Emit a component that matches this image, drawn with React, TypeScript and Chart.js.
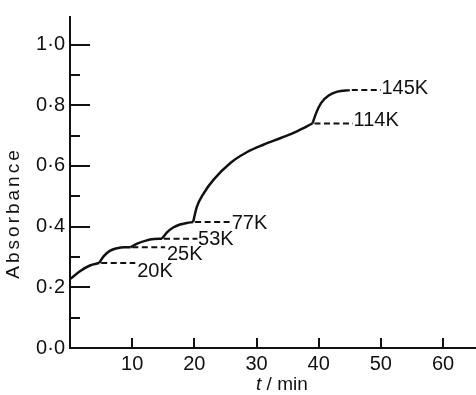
import React, { useEffect, useRef } from 'react';
import { Chart, registerables } from 'chart.js';

Chart.register(...registerables);

const INK = '#111111';

// Axis ticks
const X_TICKS = [10, 20, 30, 40, 50, 60];
const X_TICK_LABELS = ['10', '20', '30', '40', '50', '60'];
const Y_TICKS = [0, 0.2, 0.4, 0.6, 0.8, 1.0];
const Y_TICK_LABELS = ['0·0', '0·2', '0·4', '0·6', '0·8', '1·0'];
const Y_MINOR_TICKS = [0.1, 0.3, 0.5, 0.7, 0.9];

// Solid warming segments (t / min, absorbance)
const RISE_20K_T = [0, 1.6, 3.2, 4.7];
const RISE_20K_A = [0.227, 0.253, 0.272, 0.28];
const RISE_25K_T = [4.7, 5.4, 6.4, 7.6, 8.7, 9.7];
const RISE_25K_A = [0.28, 0.302, 0.32, 0.329, 0.332, 0.332];
const RISE_53K_T = [9.7, 10.8, 12.2, 13.5, 14.8];
const RISE_53K_A = [0.332, 0.344, 0.354, 0.359, 0.36];
const RISE_77K_T = [14.8, 15.6, 16.6, 17.7, 18.8, 19.8];
const RISE_77K_A = [0.36, 0.381, 0.397, 0.407, 0.412, 0.415];
const RISE_114K_T = [19.8, 20.4, 21.5, 23.1, 25.8, 28.5, 31.1, 34, 36.5, 39];
const RISE_114K_A = [0.415, 0.465, 0.51, 0.555, 0.61, 0.646, 0.67, 0.693, 0.714, 0.74];
const RISE_145K_T = [39, 39.6, 40.4, 41.6, 43, 45];
const RISE_145K_A = [0.74, 0.775, 0.808, 0.832, 0.845, 0.85];

// Dashed plateaus and their labels
const PLATEAU_LABELS = ['20K', '25K', '53K', '77K', '114K', '145K'];
const PLATEAU_START_T = [4.7, 9.7, 14.8, 19.8, 39, 45];
const PLATEAU_END_T = [10.5, 15.3, 20.5, 25.8, 45.5, 50];
const PLATEAU_A = [0.28, 0.332, 0.36, 0.415, 0.74, 0.85];
const LABEL_T = [10.8, 15.6, 20.6, 26.0, 45.6, 50.1];
const LABEL_A = [0.253, 0.308, 0.357, 0.412, 0.75, 0.854];

const X_MIN = 0;
const X_MAX = 65.3;
const Y_MIN = 0;
const Y_MAX = 1.091;

const FONT = '"Liberation Sans", Arial, sans-serif';

const SEGMENTS: [number[], number[]][] = [
  [RISE_20K_T, RISE_20K_A],
  [RISE_25K_T, RISE_25K_A],
  [RISE_53K_T, RISE_53K_A],
  [RISE_77K_T, RISE_77K_A],
  [RISE_114K_T, RISE_114K_A],
  [RISE_145K_T, RISE_145K_A],
];

const overlay = {
  id: 'overlay',
  afterDraw(chart: any) {
    const { ctx, chartArea } = chart;
    const x = chart.scales.x;
    const y = chart.scales.y;
    ctx.save();
    ctx.strokeStyle = INK;
    ctx.fillStyle = INK;
    ctx.lineWidth = 2;
    ctx.setLineDash([]);
    ctx.beginPath();
    Y_TICKS.forEach((v) => {
      if (v === 0) return;
      const py = Math.round(y.getPixelForValue(v));
      ctx.moveTo(chartArea.left, py);
      ctx.lineTo(chartArea.left + 20, py);
    });
    Y_MINOR_TICKS.forEach((v) => {
      const py = Math.round(y.getPixelForValue(v));
      ctx.moveTo(chartArea.left, py);
      ctx.lineTo(chartArea.left + 10, py);
    });
    X_TICKS.forEach((v) => {
      const px = Math.round(x.getPixelForValue(v));
      ctx.moveTo(px, chartArea.bottom);
      ctx.lineTo(px, chartArea.bottom - 10);
    });
    ctx.stroke();

    // plateau labels
    ctx.font = `20px ${FONT}`;
    ctx.textAlign = 'left';
    ctx.textBaseline = 'middle';
    PLATEAU_LABELS.forEach((s, i) => {
      ctx.fillText(s, x.getPixelForValue(LABEL_T[i]), y.getPixelForValue(LABEL_A[i]));
    });

    // y title
    ctx.save();
    ctx.translate(14, chartArea.top + (chartArea.bottom - chartArea.top) * 0.592);
    ctx.rotate(-Math.PI / 2);
    ctx.font = `19px ${FONT}`;
    (ctx as any).letterSpacing = '3px';
    ctx.textAlign = 'center';
    ctx.textBaseline = 'middle';
    ctx.fillText('Absorbance', 0, 0);
    ctx.restore();

    // x title: italic t / min
    const cx = chartArea.left + (chartArea.right - chartArea.left) * 0.522;
    const ty = 385;
    ctx.textBaseline = 'middle';
    ctx.textAlign = 'left';
    ctx.font = `italic 19px ${FONT}`;
    const wt = ctx.measureText('t').width;
    ctx.font = `19px ${FONT}`;
    const wr = ctx.measureText(' / min').width;
    const start = cx - (wt + wr) / 2;
    ctx.font = `italic 19px ${FONT}`;
    ctx.fillText('t', start, ty);
    ctx.font = `19px ${FONT}`;
    ctx.fillText(' / min', start + wt, ty);
    ctx.restore();
  },
};

export default function App() {
  const ref = useRef<HTMLCanvasElement | null>(null);

  useEffect(() => {
    document.body.style.margin = '0';
    const canvas = ref.current;
    if (!canvas) return;

    const datasets: any[] = [];
    SEGMENTS.forEach(([ts, as]) => {
      datasets.push({
        data: ts.map((t, i) => ({ x: t, y: as[i] })),
        borderColor: INK,
        borderWidth: 2.5,
        cubicInterpolationMode: 'monotone',
        pointRadius: 0,
        fill: false,
      });
    });
    PLATEAU_LABELS.forEach((_, i) => {
      datasets.push({
        data: [
          { x: PLATEAU_START_T[i], y: PLATEAU_A[i] },
          { x: PLATEAU_END_T[i], y: PLATEAU_A[i] },
        ],
        borderColor: INK,
        borderWidth: 2,
        borderDash: [6, 3.5],
        borderDashOffset: -2,
        pointRadius: 0,
        fill: false,
      });
    });

    const chart = new Chart(canvas, {
      type: 'line',
      data: { datasets },
      options: {
        animation: false,
        responsive: false,
        devicePixelRatio: 1,
        layout: { padding: { top: 12, left: 0, right: 0, bottom: 0 } },
        plugins: { legend: { display: false }, tooltip: { enabled: false } },
        elements: { point: { radius: 0 } },
        scales: {
          x: {
            type: 'linear',
            min: X_MIN,
            max: X_MAX,
            afterFit: (s: any) => {
              s.height = 47;
            },
            afterBuildTicks: (s: any) => {
              s.ticks = X_TICKS.map((v) => ({ value: v }));
            },
            ticks: {
              autoSkip: false,
              maxRotation: 0,
              padding: 4,
              color: INK,
              font: { family: FONT, size: 20 },
              callback: (v: any) => {
                const i = X_TICKS.indexOf(Number(v));
                return i >= 0 ? X_TICK_LABELS[i] : '';
              },
            },
            grid: { display: true, drawOnChartArea: false, drawTicks: false },
            border: { display: true, color: INK, width: 2 },
          },
          y: {
            type: 'linear',
            min: Y_MIN,
            max: Y_MAX,
            afterFit: (s: any) => {
              s.width = 70;
            },
            afterBuildTicks: (s: any) => {
              s.ticks = Y_TICKS.map((v) => ({ value: v }));
            },
            ticks: {
              autoSkip: false,
              padding: 5,
              color: INK,
              font: { family: FONT, size: 20 },
              callback: (v: any) => {
                const i = Y_TICKS.findIndex((t) => Math.abs(t - Number(v)) < 1e-6);
                return i >= 0 ? Y_TICK_LABELS[i] : '';
              },
            },
            grid: { display: true, drawOnChartArea: false, drawTicks: false },
            border: { display: true, color: INK, width: 2 },
          },
        },
      },
      plugins: [overlay],
    });

    return () => {
      chart.destroy();
    };
  }, []);

  return <canvas ref={ref} width={476} height={395} style={{ display: 'block' }} />;
}
